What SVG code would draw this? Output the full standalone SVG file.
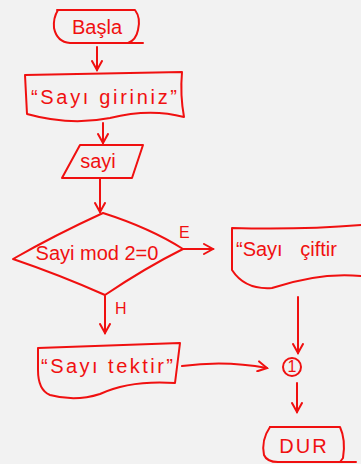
<svg xmlns="http://www.w3.org/2000/svg" width="361" height="464" viewBox="0 0 361 464">
<defs>
<style>
.s{fill:none;stroke:#f01010;stroke-width:2;stroke-linecap:round;stroke-linejoin:round}
.t{fill:#f01010;font-family:"Liberation Sans",Arial,sans-serif;font-size:20px}
.l{fill:#f01010;font-family:"Liberation Sans",Arial,sans-serif;font-size:16px}
</style>
<marker id="a" viewBox="0 0 12 12" refX="10" refY="6" markerWidth="12" markerHeight="12" markerUnits="userSpaceOnUse" orient="auto">
<path d="M1,1 L10,6 L1,11" fill="none" stroke="#f01010" stroke-width="2" stroke-linecap="round"/>
</marker>
</defs>
<rect width="361" height="464" fill="#f2f2f2"/>
<g id="connectors">
<path class="s" d="M97,47 L97,70" marker-end="url(#a)"/>
<path class="s" d="M103,123 L103,143" marker-end="url(#a)"/>
<path class="s" d="M100,179 L100,212" marker-end="url(#a)"/>
<path class="s" d="M183,249 L213,249" marker-end="url(#a)"/>
<path class="s" d="M105,296 L105,333" marker-end="url(#a)"/>
<path class="s" d="M298,297 L298,353" marker-end="url(#a)"/>
<path class="s" d="M182,366 Q225,360 267,368" marker-end="url(#a)"/>
<path class="s" d="M297,383 L297,412" marker-end="url(#a)"/>
<text class="l" x="179" y="238">E</text>
<text class="l" x="115" y="314">H</text>
</g>
<g id="basla">
<path class="s" d="M58,10 Q53,18 54,28 Q57,42 70,43 L143,43"/>
<path class="s" d="M57,10 L135,10 Q141,18 138,30 Q136,40 128,43"/>
<text class="t" x="97" y="34" text-anchor="middle" font-size="22">Başla</text>
</g>
<g id="sayi-giriniz">
<path class="s" d="M25,75 L182,72 Q180,95 184,117 Q150,108 110,118 Q70,126 27,114 Z"/>
<text class="t" x="104" y="104" text-anchor="middle" textLength="146" lengthAdjust="spacing">“Sayı giriniz”</text>
</g>
<g id="sayi-input">
<path class="s" d="M80,145 L143,145 L132,178 L62,178 Z"/>
<text class="t" x="98" y="168" text-anchor="middle" font-size="19">sayi</text>
</g>
<g id="karar">
<path class="s" d="M13,259 Q55,235 103,213 Q150,228 183,249 Q145,268 105,295 Q60,275 13,259 Z"/>
<text class="t" x="97" y="260" text-anchor="middle" font-size="19">Sayi mod 2=0</text>
</g>
<g id="sayi-ciftir">
<path class="s" d="M361,225 Q300,230 232,228 L232,270 Q245,290 272,288 Q320,272 361,276"/>
<text class="t" x="236" y="256" word-spacing="12">“Sayı çiftir</text>
</g>
<g id="sayi-tektir">
<path class="s" d="M38,348 L180,343 L175,383 Q130,380 100,394 Q75,402 50,395 Q38,390 38,370 Z"/>
<text class="t" x="107" y="373" text-anchor="middle" textLength="132" lengthAdjust="spacing">“Sayı tektir”</text>
</g>
<g id="baglanti">
<circle class="s" cx="292" cy="367" r="9"/>
<text class="l" x="292" y="372" text-anchor="middle" font-size="11">1</text>
</g>
<g id="dur">
<path class="s" d="M270,427 L340,427 Q346,440 343,458 L340,462"/>
<path class="s" d="M270,427 Q261,440 264,455 Q267,462 278,462 L356,462"/>
<text class="t" x="304" y="453" text-anchor="middle" font-size="22" letter-spacing="2">DUR</text>
</g>
</svg>
